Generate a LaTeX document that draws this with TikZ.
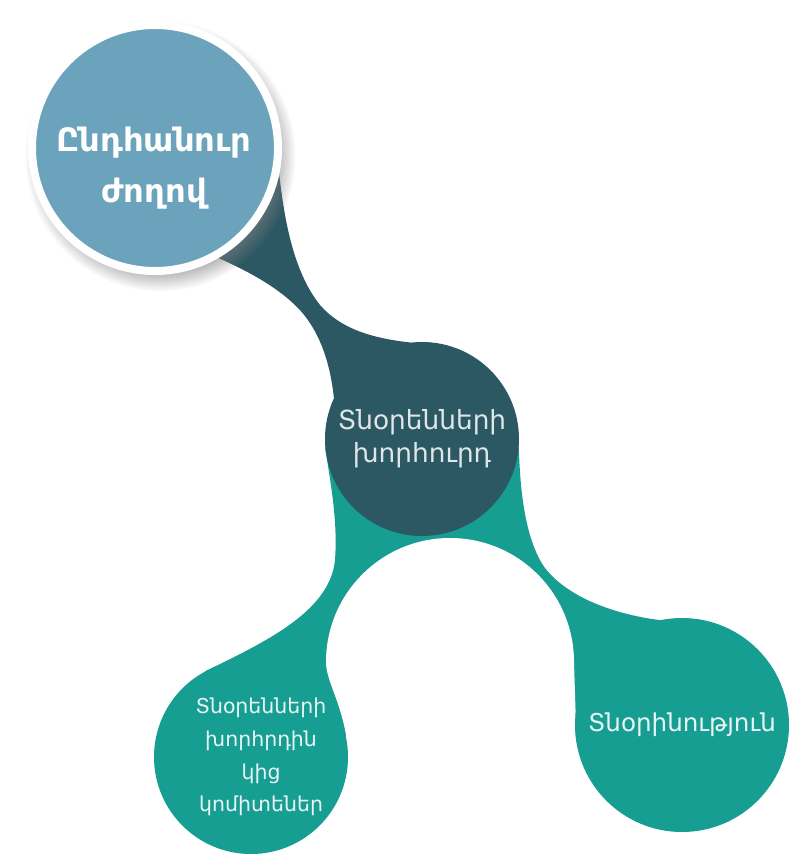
\documentclass[tikz,border=0pt]{standalone}
\usepackage{fontspec}
\setmainfont{DejaVu Sans}
\usetikzlibrary{shadows,backgrounds}

\definecolor{assemblyblue}{RGB}{108,163,188}
\definecolor{boardteal}{RGB}{44,88,100}
\definecolor{branchteal}{RGB}{22,158,146}

\begin{document}
\begin{tikzpicture}[x=0.03cm,y=-0.03cm,
    bubble/.style={circle,inner sep=0pt,align=center},
    branch/.style={bubble,fill=branchteal,text=white!90!branchteal},
    branchtext/.style={align=center,text=white!90!branchteal}]
   \useasboundingbox (0,0) rectangle (792,856);
   \node[bubble,fill=assemblyblue,draw=white,line width=0.24cm,minimum size=7.38cm,
         circular drop shadow={shadow xshift=4pt,shadow yshift=-6pt,shadow scale=1.1,opacity=0.6}]
         (assembly) at (155,148) {};
   \node[align=center,text=white,font=\fontsize{27.5}{43}\selectfont\bfseries]
         (assemblytext) at (154,168) {Ընդհանուր\\ժողով};
   \node[bubble,fill=boardteal,minimum size=5.82cm,text=white!85!boardteal,
         font=\fontsize{22.5}{28}\selectfont] (board) at (422,439) {Տնօրենների\\խորհուրդ};
   \node[branch,minimum size=5.82cm] (committees) at (251,757) {};
   \node[branchtext,font=\fontsize{17.5}{28}\selectfont]
         (committeestext) at (261,757) {Տնօրենների\\խորհրդին\\կից\\կոմիտեներ};
   \node[branch,minimum size=6.42cm,font=\fontsize{21}{28}\selectfont]
         (management) at (682,725) {Տնօրինություն};
   \coordinate (gap) at (450,662);
   \begin{pgfonlayer}{background}
      \fill[white] (0,0) rectangle (792,856);
      % teal branches below the board
      \fill[branchteal] (board.center) -- (board.185)
          .. controls (330,480) and (338,520) .. (335,560)
          .. controls (330,610) and (270,640) .. (committees.118)
          -- (committees.center) -- (360,760) -- (gap) -- (management.180)
          -- (management.center) -- (management.102)
          .. controls (620,615) and (570,600) .. (545,568)
          .. controls (525,540) and (520,490) .. (board.-5) -- cycle;
      % white gap between the two branches
      \fill[white] (326,662) arc (180:360:124) -- (576,725) -- (576,856) -- (346,856)
          -- (346,735) .. controls (340,700) and (326,680) .. (326,662) -- cycle;
      % dark neck from the assembly to the board
      \fill[boardteal] (assembly.center) -- (assembly.-12)
          .. controls (284,215) and (292,270) .. (320,305)
          .. controls (340,328) and (370,338) .. (board.97)
          -- (board.center) -- (board.155)
          .. controls (330,360) and (318,328) .. (297,307)
          .. controls (275,285) and (245,270) .. (assembly.-60) -- cycle;
   \end{pgfonlayer}
\end{tikzpicture}
\end{document}
